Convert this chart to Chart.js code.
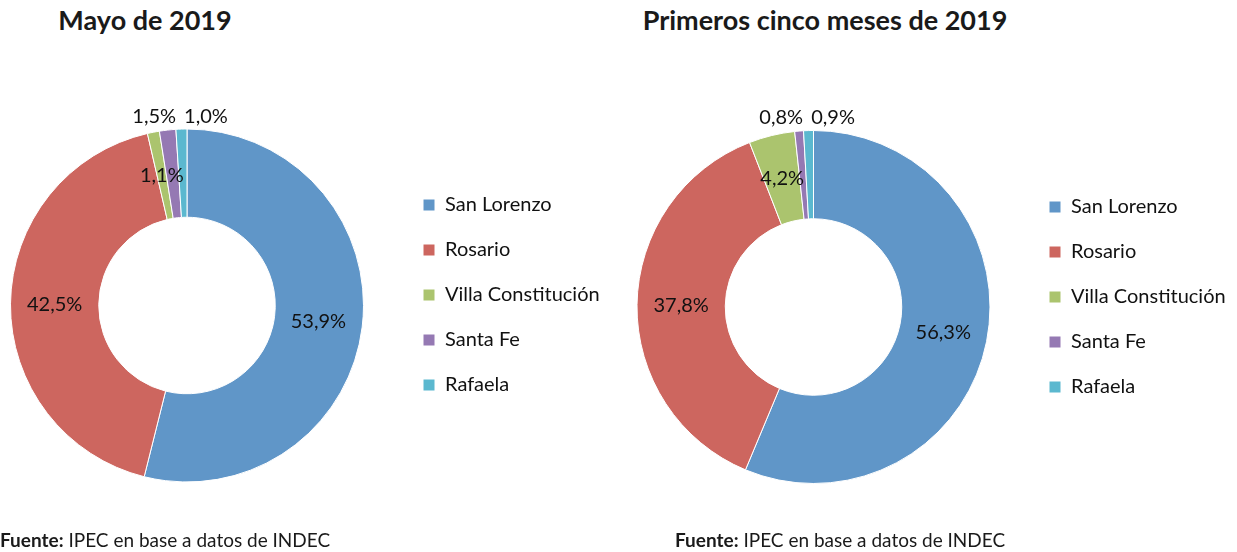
<!DOCTYPE html>
<html>
<head>
<meta charset="utf-8">
<script src="https://cdn.jsdelivr.net/npm/chart.js@4.4.1/dist/chart.umd.min.js"></script>
<style>
  html, body { margin:0; padding:0; background:#fff; width:1237px; height:552px; overflow:hidden; position:relative; font-family: Lato, 'Open Sans', sans-serif; }
  canvas { position:absolute; top:0; }
  .title { position:absolute; top:3px; font-weight:bold; font-size:27px; color:#1a1a1a; white-space:nowrap; transform:translateX(-50%); }
  .src { position:absolute; top:528px; font-size:19px; color:#1a1a1a; white-space:nowrap; }
</style>
</head>
<body>
<div class="title" id="t1" style="left:145px"></div>
<div class="title" id="t2" style="left:825px"></div>
<canvas id="c1" width="660" height="552" style="left:-40px"></canvas>
<canvas id="c2" width="647" height="552" style="left:590px"></canvas>
<div class="src" style="left:0px"><b>Fuente:</b> IPEC en base a datos de INDEC</div>
<div class="src" style="left:675px"><b>Fuente:</b> IPEC en base a datos de INDEC</div>
<script>
// ---- data ----
const categories = ['San Lorenzo', 'Rosario', 'Villa Constitución', 'Santa Fe', 'Rafaela'];
const mayo2019 = [53.9, 42.5, 1.1, 1.5, 1.0];
const primerosCincoMeses2019 = [56.3, 37.8, 4.2, 0.8, 0.9];
const chartTitles = ['Mayo de 2019', 'Primeros cinco meses de 2019'];

// ---- styles ----
const sliceColors = ['#6096C8', '#CD665F', '#ABC46E', '#9579B3', '#5BB8CF'];
const FONT = "Lato, 'Open Sans', sans-serif";

document.getElementById('t1').textContent = chartTitles[0];
document.getElementById('t2').textContent = chartTitles[1];

const fmt = v => v.toFixed(1).replace('.', ',') + '%';

const sliceLabels = {
  id: 'sliceLabels',
  afterDatasetsDraw(chart, args, opts) {
    const ctx = chart.ctx;
    const meta = chart.getDatasetMeta(0);
    const values = chart.data.datasets[0].data;
    const outside = opts.outside || [];
    ctx.save();
    ctx.font = opts.font;
    ctx.fillStyle = opts.color;
    ctx.textBaseline = 'middle';
    let anchor = null;
    if (outside.length) {
      const a = meta.data[outside[outside.length - 1]];
      const m = (a.startAngle + a.endAngle) / 2;
      const r = a.outerRadius + opts.outsideGap;
      anchor = { x: a.x + Math.cos(m) * r, y: a.y + Math.sin(m) * r };
    }
    meta.data.forEach((arc, i) => {
      const txt = fmt(values[i]);
      const oi = outside.indexOf(i);
      if (oi === -1) {
        const m = (arc.startAngle + arc.endAngle) / 2;
        const r = (arc.innerRadius + arc.outerRadius) / 2;
        ctx.textAlign = 'center';
        ctx.fillText(txt, arc.x + Math.cos(m) * r, arc.y + Math.sin(m) * r);
      } else if (oi === outside.length - 1) {
        ctx.textAlign = 'left';
        ctx.fillText(txt, anchor.x + 3, anchor.y);
      } else {
        ctx.textAlign = 'right';
        ctx.fillText(txt, anchor.x - 5, anchor.y);
      }
    });
    ctx.restore();
  }
};

const LEG_FONT = 20, ROW = 45;
const LEG_PAD = ROW - LEG_FONT;

function makeChart(id, values, canvasLeft, canvasW, cx, cy, boxX, firstRowY) {
  const chartRight = boxX - LEG_PAD - canvasLeft;         // canvas coords
  const chartLeft = 2 * (cx - canvasLeft) - chartRight;
  const chartTop = firstRowY - LEG_FONT / 2 - LEG_PAD;
  const chartBottom = 2 * cy - chartTop;
  const chart = new Chart(document.getElementById(id), {
    type: 'doughnut',
    data: {
      labels: categories,
      datasets: [{
        data: values,
        backgroundColor: sliceColors,
        borderColor: '#ffffff',
        borderWidth: 1,
        clip: false
      }]
    },
    plugins: [sliceLabels],
    options: {
      responsive: false,
      maintainAspectRatio: false,
      animation: false,
      radius: 176.5,
      cutout: '50%',
      layout: {
        padding: {
          left: chartLeft,
          right: 10,
          top: chartTop,
          bottom: 552 - chartBottom
        }
      },
      plugins: {
        tooltip: { enabled: false },
        legend: {
          position: 'right',
          align: 'start',
          labels: {
            boxWidth: 12,
            boxHeight: 12,
            padding: LEG_PAD,
            color: '#111',
            font: { family: FONT, size: LEG_FONT }
          }
        },
        sliceLabels: {
          outside: [3, 4],
          outsideGap: 13,
          font: '20px ' + FONT,
          color: '#111'
        }
      }
    }
  });
  // place the legend so the doughnut sits where it should
  const legW = chart.legend.width;
  chart.options.layout.padding.right = canvasW - chartRight - legW;
  chart.update();
  return chart;
}

makeChart('c1', mayo2019, -40, 660, 187, 305.5, 423, 205);
makeChart('c2', primerosCincoMeses2019, 590, 647, 813.5, 307, 1049, 207);
</script>
</body>
</html>
